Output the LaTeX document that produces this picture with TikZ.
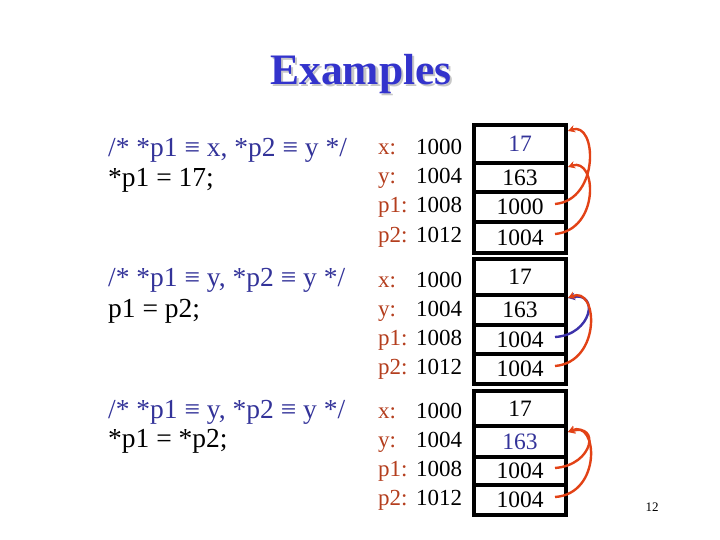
\documentclass[tikz,border=0pt]{standalone}
\usepackage{fontspec}
\setmainfont{Liberation Serif}
\usetikzlibrary{arrows.meta}
\definecolor{cmt}{RGB}{51,51,153}
\definecolor{lab}{RGB}{180,62,30}
\definecolor{ttl}{RGB}{51,51,204}
\definecolor{arr}{RGB}{226,66,22}
\definecolor{barr}{RGB}{60,50,170}
\tikzset{
  cell/.style={draw=black, line width=3.5pt, minimum width=92pt, inner sep=0pt, font=\fontsize{23.5}{23.5}\selectfont},
  txt/.style={anchor=base west, inner sep=0pt, font=\fontsize{27.5}{27.5}\selectfont},
  addr/.style={anchor=base west, inner sep=0pt, font=\fontsize{23}{23}\selectfont},
  ptr/.style={draw=arr, line width=2.4pt, -{Stealth[length=7pt,width=7.5pt]}},
  bptr/.style={draw=barr, line width=2.4pt, -{Stealth[length=7pt,width=7.5pt]}}
}
\begin{document}
\begin{tikzpicture}[x=1pt,y=-1pt]
\useasboundingbox (0,0) rectangle (720,540);
% title with shadow
\node[font=\bfseries\fontsize{43.5}{43.5}\selectfont, text=ttl] (title) at (361,75)
  {\rlap{\hspace{2.2pt}\raisebox{-2.2pt}{\color{black!22}Examples}}Examples};
% comments and code
\node[txt, text=cmt] (c1) at (108,157) {/* *p1 ≡ x, *p2 ≡ y */};
\node[txt] (s1) at (108,187) {*p1 = 17;};
\node[txt, text=cmt] (c2) at (108,286) {/* *p1 ≡ y, *p2 ≡ y */};
\node[txt] (s2) at (108,317) {p1 = p2;};
\node[txt, text=cmt] (c3) at (108,418) {/* *p1 ≡ y, *p2 ≡ y */};
\node[txt] (s3) at (108,447) {*p1 = *p2;};
% address labels
\foreach \k/\yy in {1/155,2/287,3/418}{
  \node[addr, text=lab] (xl\k) at (378,\yy) {x:};
  \node[addr] (xa\k) at (416,\yy) {1000};
  \node[addr, text=lab] (yl\k) at (378,\yy+29) {y:};
  \node[addr] (ya\k) at (416,\yy+29) {1004};
  \node[addr, text=lab] (pl\k) at (378,\yy+58) {p1:};
  \node[addr] (pa\k) at (416,\yy+58) {1008};
  \node[addr, text=lab] (ql\k) at (378,\yy+87) {p2:};
  \node[addr] (qa\k) at (416,\yy+87) {1012};
}
% box 1
\node[cell, minimum height=38pt, text=cmt] (b1a) at (520,144) {17};
\node[cell, minimum height=29pt] (b1b) at (520,177.5) {163};
\node[cell, minimum height=30pt] (b1c) at (520,207) {1000};
\node[cell, minimum height=31pt] (b1d) at (520,237.5) {1004};
% box 2
\node[cell, minimum height=36pt] (b2a) at (520,277) {17};
\node[cell, minimum height=30pt] (b2b) at (520,310) {163};
\node[cell, minimum height=29pt] (b2c) at (520,339.5) {1004};
\node[cell, minimum height=30pt] (b2d) at (520,369) {1004};
% box 3
\node[cell, minimum height=35pt] (b3a) at (520,408.5) {17};
\node[cell, minimum height=31pt, text=cmt] (b3b) at (520,441.5) {163};
\node[cell, minimum height=28pt] (b3c) at (520,471) {1004};
\node[cell, minimum height=30pt] (b3d) at (520,500) {1004};
% pointer start/end coordinates
\coordinate (s1c) at (555,204);
\coordinate (s1d) at (555,234);
\coordinate (e1a) at (568,131);
\coordinate (e1b) at (568,167);
\coordinate (s2c) at (555,337);
\coordinate (s2d) at (555,366);
\coordinate (e2b) at (568,298);
\coordinate (s3c) at (555,468);
\coordinate (s3d) at (555,497);
\coordinate (e3b) at (568,432);
% pointers
\draw[ptr] (s1c) .. controls (600,200) and (597,121) .. (e1a);
\draw[ptr] (s1d) .. controls (600,230) and (597,157) .. (e1b);
\draw[bptr] (s2c) .. controls (592,335) and (600,291) .. (e2b);
\draw[ptr] (s2d) .. controls (602,362) and (598,285) .. (e2b);
\draw[ptr] (s3c) .. controls (594,465) and (600,423) .. (e3b);
\draw[ptr] (s3d) .. controls (602,494) and (598,419) .. (e3b);
% page number
\node[font=\fontsize{13}{13}\selectfont] (pg) at (652,507) {12};
\end{tikzpicture}
\end{document}
